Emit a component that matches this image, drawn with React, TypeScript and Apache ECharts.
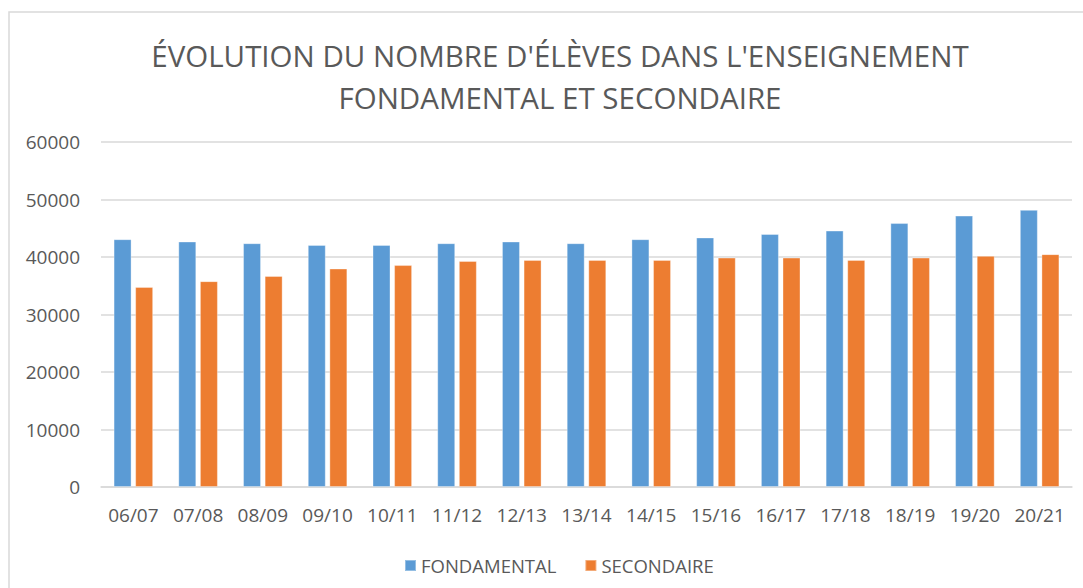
import React, { useEffect, useRef } from "react";
import * as echarts from "echarts";

const categories = ["06/07", "07/08", "08/09", "09/10", "10/11", "11/12", "12/13", "13/14", "14/15", "15/16", "16/17", "17/18", "18/19", "19/20", "20/21"];
const fondamental = [43100, 42700, 42400, 42100, 42100, 42400, 42700, 42400, 43100, 43400, 44000, 44600, 45900, 47200, 48200];
const secondaire = [34800, 35800, 36700, 38000, 38600, 39300, 39500, 39500, 39500, 39900, 39900, 39500, 39900, 40200, 40500];
const yTicks = { min: 0, max: 60000, interval: 10000 };

const FONT = "'Open Sans', 'Liberation Sans', sans-serif";
const TEXT = "#595959";
const GRID = "#d9d9d9";

export default function App() {
  const ref = useRef<HTMLDivElement>(null);
  useEffect(() => {
    document.body.style.margin = "0";
    const chart = echarts.init(ref.current!, null, { renderer: "svg" });
    chart.setOption({
      animation: false,
      backgroundColor: "#ffffff",
      graphic: [
        {
          type: "rect",
          shape: { x: 9, y: 12, width: 1100, height: 620 },
          style: { fill: "none", stroke: GRID, lineWidth: 1.5 },
          silent: true,
          z: -1,
        },
      ],
      title: {
        text: "ÉVOLUTION DU NOMBRE D'ÉLÈVES DANS L'ENSEIGNEMENT\nFONDAMENTAL ET SECONDAIRE",
        left: 555,
        textAlign: "center",
        top: 29,
        textStyle: {
          fontFamily: FONT,
          fontSize: 29.5,
          fontWeight: "normal",
          color: TEXT,
          lineHeight: 42,
        },
      },
      legend: {
        data: ["FONDAMENTAL", "SECONDAIRE"],
        left: 399,
        top: 551,
        icon: "rect",
        itemWidth: 11,
        itemHeight: 11,
        itemGap: 28,
        textStyle: { fontFamily: FONT, fontSize: 18.5, color: TEXT },
      },
      grid: { left: 101, right: 11, top: 142, bottom: 101, containLabel: false },
      xAxis: {
        type: "category",
        data: categories,
        axisLine: { lineStyle: { color: GRID, width: 1.5 } },
        axisTick: { show: false },
        axisLabel: { fontFamily: FONT, fontSize: 19, color: TEXT, margin: 18, interval: 0 },
      },
      yAxis: {
        type: "value",
        min: yTicks.min,
        max: yTicks.max,
        interval: yTicks.interval,
        axisLine: { show: false },
        axisTick: { show: false },
        splitLine: { lineStyle: { color: GRID, width: 1.5 } },
        axisLabel: { fontFamily: FONT, fontSize: 19, color: TEXT, margin: 21, formatter: (v: number) => String(v) },
      },
      series: [
        {
          name: "FONDAMENTAL",
          type: "bar",
          data: fondamental,
          barWidth: 18,
          barGap: "20%",
          itemStyle: { color: "#5b9bd5", borderColor: "rgba(255,255,255,0.35)", borderWidth: 1 },
        },
        {
          name: "SECONDAIRE",
          type: "bar",
          data: secondaire,
          barWidth: 18,
          barGap: "20%",
          itemStyle: { color: "#ed7d31", borderColor: "rgba(255,255,255,0.35)", borderWidth: 1 },
        },
      ],
    });
    return () => chart.dispose();
  }, []);
  return <div ref={ref} style={{ width: 1083, height: 588 }} />;
}
